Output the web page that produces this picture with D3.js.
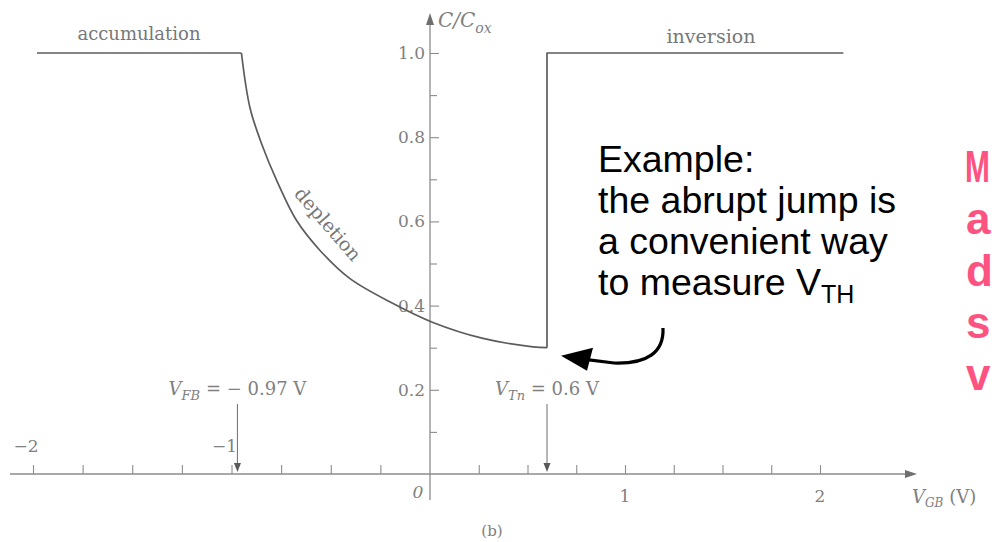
<!DOCTYPE html>
<html>
<head>
<meta charset="utf-8">
<script src="https://cdn.jsdelivr.net/npm/d3@7"></script>
<style>
  body { margin: 0; background: #fff; }
  svg { display: block; }
</style>
</head>
<body>
<svg id="chart" width="992" height="542"></svg>
<script>
// MOS capacitor C/Cox versus gate voltage V_GB
const accumulationV = [-1.98, -0.95];
const accumulationC = [1.0, 1.0];
const depletionV = [-0.95, -0.907, -0.848, -0.772, -0.672, -0.554, -0.403, -0.186, 0.015, 0.272, 0.528, 0.6];
const depletionC = [1.0, 0.870, 0.784, 0.697, 0.602, 0.531, 0.464, 0.405, 0.360, 0.322, 0.302, 0.300];
const inversionV = [0.6, 0.6, 2.12];
const inversionC = [0.300, 1.0, 1.0];

const yMajorTicks = [0.2, 0.4, 0.6, 0.8, 1.0];
const yMajorLabels = ["0.2", "0.4", "0.6", "0.8", "1.0"];
const yMinorTicks = [0.1, 0.3, 0.5, 0.7, 0.9];
const xTicks = [-2, -1.75, -1.5, -1.25, -1, -0.75, -0.5, -0.25, 0.25, 0.5, 0.75, 1, 1.25, 1.5, 1.75, 2];
const xLabelValues = [-2, -1, 0, 1, 2];
const xLabelTexts = ["\u22122", "\u22121", "0", "1", "2"];

const vFlatBand = -0.97;
const vThreshold = 0.6;

const regionNames = ["accumulation", "depletion", "inversion"];
const noteLines = ["Example:", "the abrupt jump is", "a convenient way", "to measure V"];
const sideLetters = ["M", "a", "d", "s", "v"];

const svg = d3.select("#chart");
const serif = "'DejaVu Serif', 'Liberation Serif', serif";
const sans = "'Liberation Sans', Arial, sans-serif";
const axisGrey = "#8c8c8c";
const textGrey = "#808080";

const x = d3.scaleLinear().domain([-2, 0, 2]).range([33, 430, 820]);
const y = d3.scaleLinear().domain([0, 1]).range([474, 53]);

const x0 = x(0), y0 = y(0);

// axis lines with arrowheads
const axes = svg.append("g").attr("stroke", axisGrey).attr("stroke-width", 1.3);
axes.append("line").attr("x1", 10).attr("x2", 908).attr("y1", y0).attr("y2", y0);
axes.append("line").attr("x1", x0).attr("x2", x0).attr("y1", 500).attr("y2", 22);
svg.append("path").attr("fill", "#6f6f6f")
  .attr("d", `M${x0},${13} L${x0 - 4},${25} L${x0 + 4},${25} Z`);
svg.append("path").attr("fill", "#6f6f6f")
  .attr("d", `M${917},${y0} L${905},${y0 - 4} L${905},${y0 + 4} Z`);

// y ticks (drawn to the right of the axis, labels on the left)
const yAxisG = svg.append("g").attr("transform", `translate(${x0},0)`)
  .call(d3.axisLeft(y).tickValues(yMajorTicks).tickSizeInner(-9).tickSizeOuter(0).tickPadding(5)
    .tickFormat((d, i) => yMajorLabels[i]));
yAxisG.select(".domain").remove();
yAxisG.selectAll(".tick line").attr("stroke", axisGrey).attr("stroke-width", 1.1);
yAxisG.selectAll(".tick text").attr("font-family", serif).attr("font-size", 17).attr("fill", textGrey);

const yMinorG = svg.append("g").attr("transform", `translate(${x0},0)`)
  .call(d3.axisLeft(y).tickValues(yMinorTicks).tickSizeInner(-7).tickSizeOuter(0).tickFormat(""));
yMinorG.select(".domain").remove();
yMinorG.selectAll(".tick line").attr("stroke", axisGrey).attr("stroke-width", 1.1);

// x ticks pointing upward
const xAxisG = svg.append("g").attr("transform", `translate(0,${y0})`)
  .call(d3.axisBottom(x).tickValues(xTicks).tickSizeInner(-9).tickSizeOuter(0).tickFormat(""));
xAxisG.select(".domain").remove();
xAxisG.selectAll(".tick line").attr("stroke", axisGrey).attr("stroke-width", 1.1);

// x tick labels: negative ones sit above the axis, positive ones below
const xLab = svg.append("g").attr("font-family", serif).attr("font-size", 17).attr("fill", textGrey);
xLabelValues.forEach((v, i) => {
  const t = xLab.append("text").text(xLabelTexts[i]);
  if (v < 0) {
    t.attr("x", x(v) - 7).attr("y", y0 - 22).attr("text-anchor", "middle");
  } else if (v === 0) {
    t.attr("x", x0 - 12).attr("y", y0 + 24).attr("text-anchor", "middle").attr("font-style", "italic");
  } else {
    t.attr("x", x(v)).attr("y", y0 + 28).attr("text-anchor", "middle");
  }
});

// axis titles
const yTitle = svg.append("text").attr("x", x0 + 8).attr("y", 27)
  .attr("font-family", serif).attr("font-size", 20).attr("font-style", "italic").attr("fill", textGrey);
yTitle.append("tspan").text("C/C");
yTitle.append("tspan").attr("dy", 6).attr("font-size", 14).text("ox");

const xTitle = svg.append("text").attr("x", 912).attr("y", 503)
  .attr("font-family", serif).attr("font-size", 18).attr("fill", textGrey);
xTitle.append("tspan").attr("font-style", "italic").text("V");
xTitle.append("tspan").attr("dy", 4).attr("font-size", 12).attr("font-style", "italic").text("GB");
xTitle.append("tspan").attr("dy", -4).text(" (V)");

svg.append("text").attr("x", 492).attr("y", 536).attr("text-anchor", "middle")
  .attr("font-family", serif).attr("font-size", 15).attr("fill", textGrey).text("(b)");

// C-V curve: flat accumulation, smooth depletion, abrupt jump into inversion
const pts = (vs, cs) => vs.map((v, i) => [v, cs[i]]);
const straight = d3.line().x(d => x(d[0])).y(d => y(d[1]));
const smooth = d3.line().x(d => x(d[0])).y(d => y(d[1])).curve(d3.curveCatmullRom.alpha(0.5));
const curveG = svg.append("g").attr("fill", "none").attr("stroke", "#5c5c5c")
  .attr("stroke-width", 1.7).attr("stroke-linejoin", "round");
curveG.append("path").attr("d", straight(pts(accumulationV, accumulationC)));
curveG.append("path").attr("d", smooth(pts(depletionV, depletionC)));
curveG.append("path").attr("d", straight(pts(inversionV, inversionC)));

// region labels
const reg = svg.append("g").attr("font-family", serif).attr("fill", "#777");
reg.append("text").attr("x", 139).attr("y", 40).attr("text-anchor", "middle").attr("font-size", 18).text(regionNames[0]);
reg.append("text").attr("transform", `translate(${328},${224}) rotate(49)`).attr("text-anchor", "middle")
  .attr("dy", "0.35em").attr("font-size", 19).text(regionNames[1]);
reg.append("text").attr("x", 711).attr("y", 43).attr("text-anchor", "middle").attr("font-size", 19).text(regionNames[2]);

// V_FB and V_Tn markers
function marker(v, labelMain, labelSub, valueText) {
  const g = svg.append("g");
  const xv = x(v);
  g.append("line").attr("x1", xv).attr("x2", xv).attr("y1", 404).attr("y2", y0 - 8)
    .attr("stroke", "#7a7a7a").attr("stroke-width", 1.1);
  g.append("path").attr("fill", "#5a5a5a")
    .attr("d", `M${xv},${y0 - 2} L${xv - 3.5},${y0 - 11} L${xv + 3.5},${y0 - 11} Z`);
  const t = g.append("text").attr("x", xv).attr("y", 395).attr("text-anchor", "middle")
    .attr("font-family", serif).attr("font-size", 18).attr("fill", textGrey);
  t.append("tspan").attr("font-style", "italic").text(labelMain);
  t.append("tspan").attr("dy", 5).attr("font-size", 13).attr("font-style", "italic").text(labelSub);
  t.append("tspan").attr("dy", -5).text(valueText);
}
marker(vFlatBand, "V", "FB", " = \u2212 0.97 V");
marker(vThreshold, "V", "Tn", " = 0.6 V");

// annotation
const note = svg.append("g").attr("font-family", sans).attr("font-size", 37.5).attr("fill", "#000");
noteLines.forEach((s, i) => {
  const t = note.append("text").attr("x", 598).attr("y", 172 + i * 41);
  t.append("tspan").text(s);
  if (i === noteLines.length - 1) {
    t.append("tspan").attr("dy", 8).attr("font-size", 25).text("TH");
  }
});

// curved pointer toward the jump
const tipX = x(vThreshold) + 14, tipY = y(0.3) + 8;
svg.append("path")
  .attr("d", `M663,328 C664,352 648,364 614,363 L${tipX + 26},${tipY + 4}`)
  .attr("fill", "none").attr("stroke", "#000").attr("stroke-width", 3.2);
svg.append("path").attr("fill", "#000")
  .attr("d", `M${tipX},${tipY} L${tipX + 32},${tipY - 8} L${tipX + 26},${tipY + 15} Z`);

// side text in pink; the wide capital is narrowed so it stays inside the frame
const side = svg.append("g").attr("font-family", sans).attr("font-weight", "bold")
  .attr("font-size", 44).attr("fill", "#fd5380");
sideLetters.forEach((s, i) => {
  const t = side.append("text").attr("transform", `translate(966,${182 + i * 52})`).text(s);
  if (s === "M") t.attr("transform", `translate(965,${182 + i * 52}) scale(0.68,1)`);
});
</script>
</body>
</html>
